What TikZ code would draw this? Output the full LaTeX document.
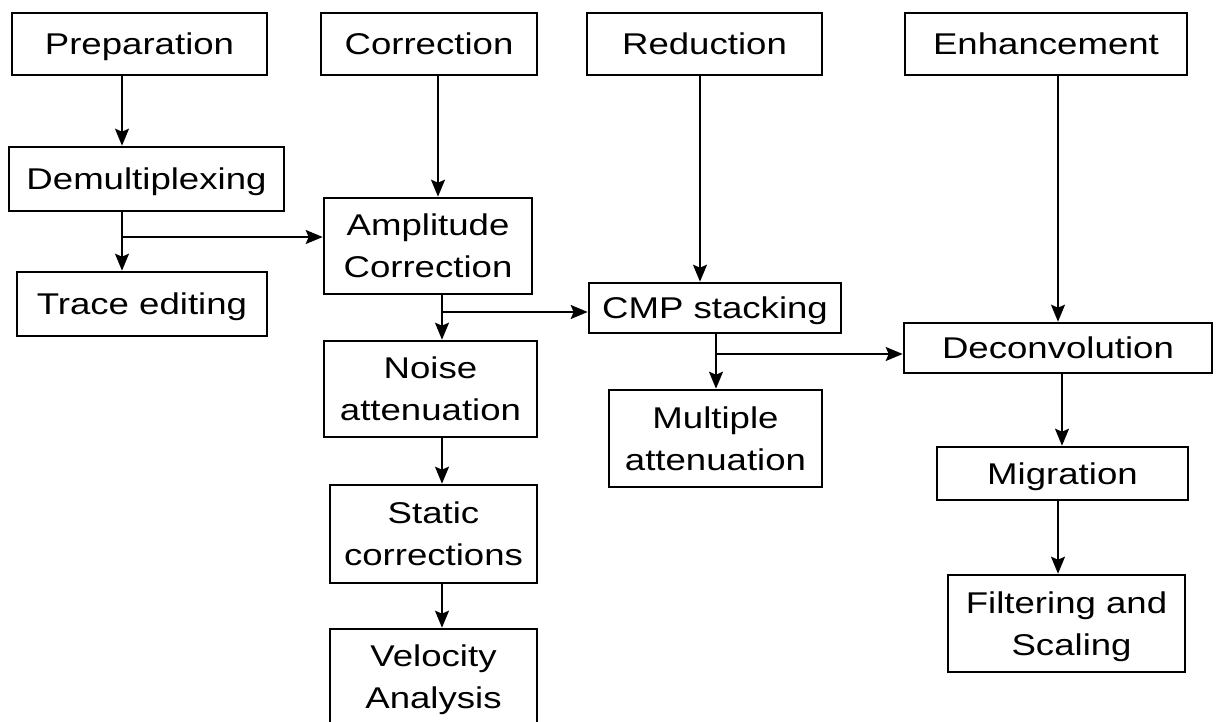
\documentclass[tikz,border=0pt]{standalone}
\usepackage{fontspec}
\setmainfont{Liberation Sans}[FakeStretch=1.22]
\usetikzlibrary{arrows.meta}
\begin{document}
\begin{tikzpicture}[x=1pt,y=-1pt,
  box/.style={draw, line width=2.6pt, rectangle, inner sep=0pt, align=center,
    font=\fontsize{30}{42}\selectfont},
  one/.style={box, text height=21.5pt, text depth=0pt},
  two/.style={box, text depth=0pt},
  arr/.style={line width=1.8pt, -{Stealth[length=17pt,width=14pt,inset=3pt]}}]
\useasboundingbox (0,0) rectangle (1216,722);
\clip (0,0) rectangle (1216,722);
% column heads
\node[one, minimum width=255pt, minimum height=62pt] (prep) at (139.5,44) {Preparation};
\node[one, minimum width=216pt, minimum height=62pt] (corr) at (429,44) {Correction};
\node[one, minimum width=235pt, minimum height=62pt] (red) at (704.5,44) {Reduction};
\node[one, minimum width=282pt, minimum height=62pt] (enh) at (1046,44) {Enhancement};
% column 1
\node[one, minimum width=275pt, minimum height=64pt] (demux) at (146.5,179) {Demultiplexing};
\node[one, minimum width=250pt, minimum height=64pt] (trace) at (142,304) {Trace editing};
% column 2
\node[two, minimum width=208pt, minimum height=96pt] (amp) at (428,246) {Amplitude\\Correction};
\node[two, minimum width=213pt, minimum height=96pt] (noise) at (430.5,389) {Noise\\attenuation};
\node[two, minimum width=207pt, minimum height=98pt] (static) at (433.5,534) {Static\\corrections};
\node[two, minimum width=207pt, minimum height=95pt] (vel) at (433.5,676.5) {Velocity\\Analysis};
% column 3
\node[one, minimum width=252pt, minimum height=50pt] (cmp) at (715,308) {CMP stacking};
\node[two, minimum width=213pt, minimum height=97pt] (mult) at (715.5,438.5) {Multiple\\attenuation};
% column 4
\node[one, minimum width=308pt, minimum height=50pt] (dec) at (1058,348) {Deconvolution};
\node[one, minimum width=251pt, minimum height=53pt] (mig) at (1062.5,473.5) {Migration};
\node[two, minimum width=237pt, minimum height=97pt] (filt) at (1066.5,623.5) {Filtering and\\\ Scaling};
% x positions of connectors
\coordinate (xa) at (122,0);
\coordinate (xb) at (438,0);
\coordinate (xc) at (442,0);
\coordinate (xd) at (700,0);
\coordinate (xe) at (716,0);
\coordinate (xf) at (1058,0);
\coordinate (xg) at (1062,0);
\coordinate (ya) at (0,237);
\coordinate (yb) at (0,312);
\coordinate (yc) at (0,354);
\coordinate (ja) at (xa |- ya);
\coordinate (jb) at (xc |- yb);
\coordinate (jc) at (xe |- yc);
% connectors
\draw[arr] (prep.south -| xa) -- (demux.north -| xa);
\draw[arr] (demux.south -| xa) -- (trace.north -| xa);
\draw[arr] (ja) -- (amp.west |- ja);
\draw[arr] (corr.south -| xb) -- (amp.north -| xb);
\draw[arr] (amp.south -| xc) -- (noise.north -| xc);
\draw[arr] (jb) -- (cmp.west |- jb);
\draw[arr] (noise.south -| xc) -- (static.north -| xc);
\draw[arr] (static.south -| xc) -- (vel.north -| xc);
\draw[arr] (red.south -| xd) -- (cmp.north -| xd);
\draw[arr] (cmp.south -| xe) -- (mult.north -| xe);
\draw[arr] (jc) -- (dec.west |- jc);
\draw[arr] (enh.south -| xf) -- (dec.north -| xf);
\draw[arr] (dec.south -| xg) -- (mig.north -| xg);
\draw[arr] (mig.south -| xf) -- (filt.north -| xf);
\end{tikzpicture}
\end{document}
